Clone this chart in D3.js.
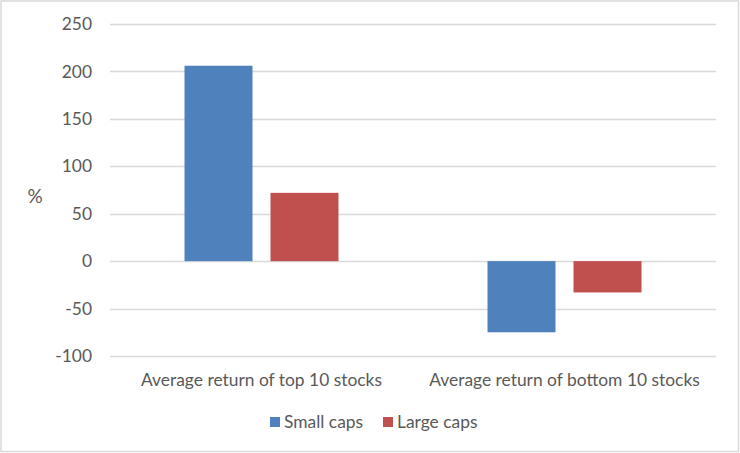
<!DOCTYPE html>
<html>
<head>
<meta charset="utf-8">
<script src="https://cdn.jsdelivr.net/npm/d3@7"></script>
<style>
  body { margin: 0; background: #fff; }
  text { font-family: Lato, "Open Sans", sans-serif; fill: #595959; }
</style>
</head>
<body>
<div id="chart"></div>
<script>
const categories = ["Average return of top 10 stocks", "Average return of bottom 10 stocks"];
const seriesNames = ["Small caps", "Large caps"];
const smallCaps = [206, -75];
const largeCaps = [72, -33];
const yTicks = [-100, -50, 0, 50, 100, 150, 200, 250];
const colors = ["#4f81bd", "#c0504d"];

const width = 740, height = 453;
const plot = { left: 110, right: 716, top: 24, bottom: 356 };
const fontSize = "17.4px";

const svg = d3.select("#chart").append("svg")
  .attr("width", width)
  .attr("height", height);

// outer border
svg.append("rect")
  .attr("x", 1).attr("y", 1)
  .attr("width", width - 2.5).attr("height", height - 2.5)
  .attr("fill", "#fff")
  .attr("stroke", "#d9d9d9")
  .attr("stroke-width", 1.5);

const y = d3.scaleLinear().domain([-100, 250]).range([plot.bottom, plot.top]);
const x0 = d3.scaleBand().domain(categories).range([plot.left, plot.right])
  .paddingInner(0).paddingOuter(0);
// inner band for the two bars inside each category
const x1 = d3.scaleBand().domain(seriesNames).range([74.5, x0.bandwidth() - 74.5])
  .paddingInner(18 / 154 * 2 / (1 + 18 / 154));

// gridlines
svg.append("g")
  .selectAll("line")
  .data(yTicks)
  .join("line")
  .attr("x1", plot.left).attr("x2", plot.right)
  .attr("y1", d => Math.round(y(d)) + 0.5).attr("y2", d => Math.round(y(d)) + 0.5)
  .attr("stroke", "#d9d9d9")
  .attr("stroke-width", 1.3);

// y axis labels (plain hyphen for negatives, like the original)
const yAxis = d3.axisLeft(y).tickValues(yTicks).tickSize(0).tickPadding(0)
  .tickFormat(d => String(d));
const yg = svg.append("g")
  .attr("transform", `translate(${plot.left - 18},0)`)
  .call(yAxis);
yg.select(".domain").remove();
yg.selectAll("text")
  .style("font-size", fontSize)
  .attr("fill", "#595959");

svg.append("text")
  .attr("x", 35).attr("y", 196)
  .attr("dy", "0.35em")
  .attr("text-anchor", "middle")
  .style("font-size", "19px")
  .text("%");

// bars
const rows = categories.map((c, i) => ({ cat: c, vals: [smallCaps[i], largeCaps[i]] }));
svg.append("g")
  .selectAll("g")
  .data(rows)
  .join("g")
  .attr("transform", d => `translate(${x0(d.cat)},0)`)
  .selectAll("rect")
  .data(d => d.vals.map((v, j) => ({ name: seriesNames[j], v, j })))
  .join("rect")
  .attr("x", d => x1(d.name))
  .attr("width", x1.bandwidth())
  .attr("y", d => y(Math.max(0, d.v)))
  .attr("height", d => Math.abs(y(d.v) - y(0)))
  .attr("fill", d => colors[d.j]);

// category labels
svg.append("g")
  .selectAll("text")
  .data(categories)
  .join("text")
  .attr("x", d => x0(d) + x0.bandwidth() / 2)
  .attr("y", 386)
  .attr("text-anchor", "middle")
  .style("font-size", fontSize)
  .text(d => d);

// legend
const legendX = [270, 383];
const legend = svg.append("g")
  .selectAll("g")
  .data(seriesNames)
  .join("g")
  .attr("transform", (d, i) => `translate(${legendX[i]},417)`);
legend.append("rect")
  .attr("width", 10).attr("height", 10)
  .attr("fill", (d, i) => colors[i]);
legend.append("text")
  .attr("x", 14).attr("y", 10.5)
  .style("font-size", fontSize)
  .text(d => d);
</script>
</body>
</html>
